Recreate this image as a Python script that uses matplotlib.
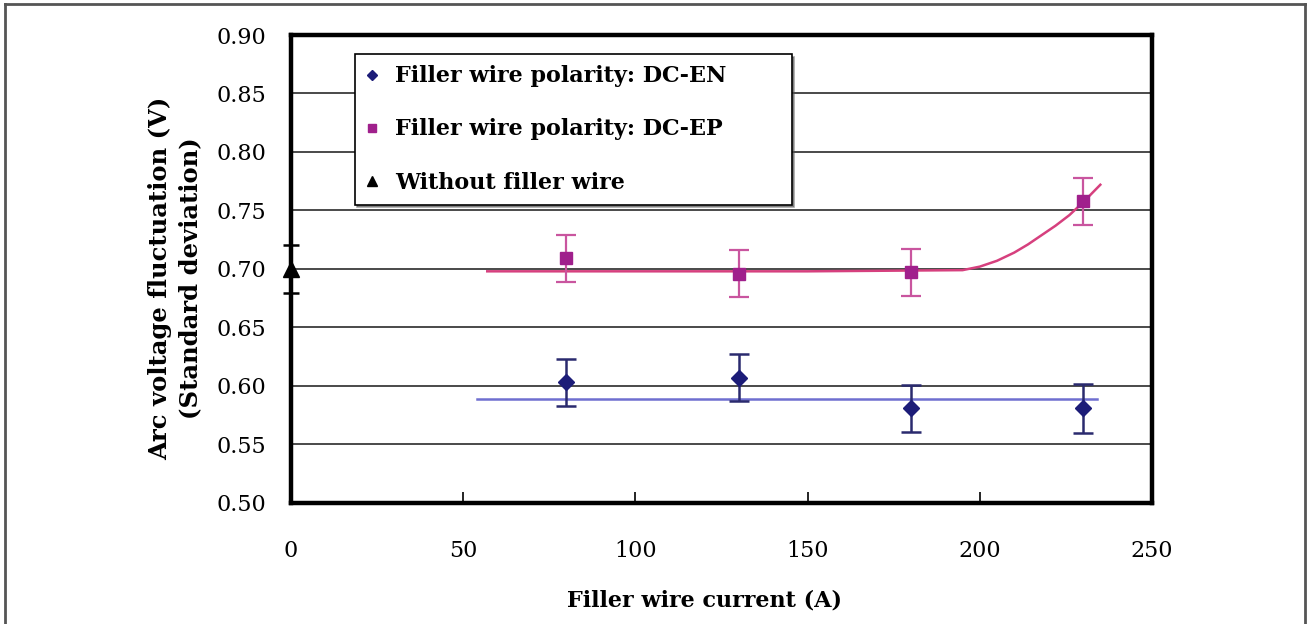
import matplotlib.pyplot as plt
from matplotlib.lines import Line2D

# Measured arc voltage fluctuation (standard deviation, V)
current = [80, 130, 180, 230]
dcen = [0.603, 0.607, 0.581, 0.581]
dcen_err = [0.020, 0.020, 0.020, 0.021]
dcep = [0.709, 0.696, 0.697, 0.758]
dcep_err = [0.020, 0.020, 0.020, 0.020]
no_wire_current = [0]
no_wire = [0.700]
no_wire_err = [0.0205]

# Trend lines
en_fit_x = [54, 234]
en_fit_y = [0.589, 0.589]
ep_fit_x = [57, 100, 150, 195, 200, 205, 210, 214, 218, 222, 226, 230, 235]
ep_fit_y = [0.698, 0.698, 0.698, 0.699, 0.702, 0.707, 0.714, 0.721, 0.729,
            0.737, 0.746, 0.757, 0.772]

xticks = [0, 50, 100, 150, 200, 250]
yticks = [0.50, 0.55, 0.60, 0.65, 0.70, 0.75, 0.80, 0.85, 0.90]

plt.rcParams['font.family'] = 'DejaVu Serif'

fig = plt.figure(figsize=(13.07, 6.24), dpi=100)
ax = fig.add_axes([0.2226, 0.194, 0.6588, 0.7499])

# horizontal grid
for y in yticks[1:-1]:
    ax.axhline(y, color='#4a4a4a', lw=1.4, zorder=1)

# trend lines
ax.plot(en_fit_x, en_fit_y, color='#6f6fd0', lw=1.8, zorder=2)
ax.plot(ep_fit_x, ep_fit_y, color='#d6407e', lw=1.8, zorder=2)

# data with error bars
ax.errorbar(current, dcen, yerr=dcen_err, fmt='D', color='#1c1c78', ecolor='#2a2a6e',
            ms=8, elinewidth=1.8, capsize=7, capthick=1.8, zorder=3)
ax.errorbar(current, dcep, yerr=dcep_err, fmt='s', color='#a0208c', ecolor='#c9559f',
            ms=9, elinewidth=1.6, capsize=7, capthick=1.6, zorder=3)
eb = ax.errorbar(no_wire_current, no_wire, yerr=no_wire_err, fmt='^', color='black',
                 ms=11, elinewidth=1.8, capsize=6, capthick=1.8, zorder=4)
for art in eb.lines[0:1] + tuple(eb.lines[1]) + tuple(eb.lines[2]):
    art.set_clip_on(False)

ax.set_xlim(0, 250)
ax.set_ylim(0.50, 0.90)
ax.set_xticks(xticks)
ax.set_yticks(yticks)
ax.set_yticklabels([f'{v:.2f}' for v in yticks])
ax.tick_params(axis='x', direction='in', length=8, width=1.2, pad=27, labelsize=16)
ax.tick_params(axis='y', length=0, pad=18, labelsize=16)
for s in ax.spines.values():
    s.set_linewidth(3.2)
    s.set_color('black')

ax.set_xlabel('Filler wire current (A)', fontsize=16, fontweight='bold')
ax.xaxis.set_label_coords(0.48, -0.185)
ax.set_ylabel('Arc voltage fluctuation (V)\n(Standard deviation)', fontsize=17.5,
              fontweight='bold', linespacing=1.3)
ax.yaxis.set_label_coords(-0.103, 0.48)

handles = [
    Line2D([], [], ls='none', marker='D', color='#1c1c78', ms=5),
    Line2D([], [], ls='none', marker='s', color='#a0208c', ms=6),
    Line2D([], [], ls='none', marker='^', color='black', ms=7),
]
labels = ['Filler wire polarity: DC-EN', 'Filler wire polarity: DC-EP',
          'Without filler wire']
leg = ax.legend(handles, labels, loc='upper left', bbox_to_anchor=(0.074, 0.5, 0.5075, 0.459),
                mode='expand', borderaxespad=0, prop={'size': 16, 'weight': 'bold'},
                handlelength=0.6, handletextpad=0.7, labelspacing=1.4, borderpad=0.5,
                fancybox=False, shadow=True, framealpha=1, edgecolor='black')
leg.get_frame().set_linewidth(1.2)
leg.set_zorder(5)

# figure border on left, top and right
for xs, ys in [([0.004, 0.004], [0.0, 0.994]), ([0.004, 0.9985], [0.994, 0.994]),
               ([0.9985, 0.9985], [0.0, 0.994])]:
    fig.add_artist(Line2D(xs, ys, color='#555555', lw=2))

fig.savefig('out.png', dpi=100, facecolor='white')
